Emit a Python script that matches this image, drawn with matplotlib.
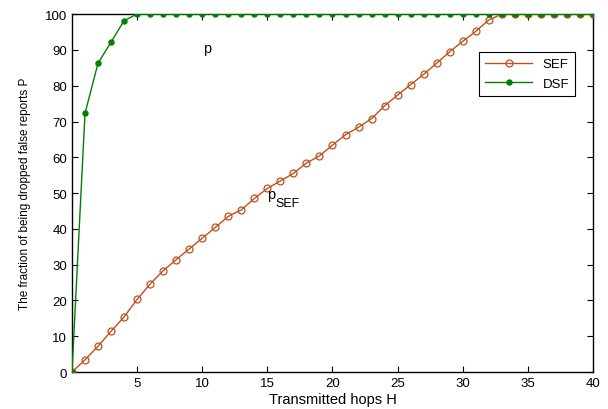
import numpy as np
import matplotlib.pyplot as plt

plt.rcParams['font.family'] = ['Liberation Sans', 'DejaVu Sans']

hops = np.arange(0, 41)
sef = [0, 3.4, 7.2, 11.4, 15.4, 20.3, 24.6, 28.3, 31.4, 34.4, 37.4,
       40.4, 43.5, 45.3, 48.5, 51.3, 53.4, 55.5, 58.4, 60.4, 63.4,
       66.3, 68.4, 70.8, 74.4, 77.4, 80.3, 83.2, 86.3, 89.5, 92.4,
       95.2, 98.4, 100, 100, 100, 100, 100, 100, 100, 100]
dsf = [0, 72.3, 86.3, 92.2, 98.2] + [100] * 36

sef_color = '#c0501c'
dsf_color = '#008000'

fig = plt.figure(figsize=(6.08, 4.10), dpi=100)
ax = fig.add_axes([0.1184, 0.0902, 0.8569, 0.8728])

ax.plot(hops, sef, '-o', color=sef_color, lw=1, ms=5, mfc='none',
        mec=sef_color, mew=0.9, label='SEF', zorder=3)
ax.plot(hops, dsf, '-o', color=dsf_color, lw=1, ms=3.6, mfc=dsf_color,
        mec=dsf_color, label='DSF', zorder=4)

# curve labels
ax.text(10.03, 89.4, 'p', fontsize=10.5, ha='left', va='baseline')
ax.text(14.97, 48.6, 'p', fontsize=10.5, ha='left', va='baseline')
ax.text(15.58, 46.4, 'SEF', fontsize=9, ha='left', va='baseline')

ax.set_xlim(0, 40)
ax.set_ylim(0, 100)
ax.set_xticks(np.arange(5, 41, 5))
ax.set_yticks(np.arange(0, 101, 10))
ax.tick_params(direction='in', top=True, right=True, labelsize=9.5, length=4, width=0.8)
for s in ax.spines.values():
    s.set_linewidth(1)

ax.set_xlabel('Transmitted hops H', fontsize=10.5, labelpad=2.5)
ax.set_ylabel('The fraction of being dropped false reports P', fontsize=8.5, labelpad=10)

leg = ax.legend(loc='upper right', bbox_to_anchor=(0.979, 0.912), fontsize=9.5,
                fancybox=False, edgecolor='black', framealpha=1,
                handlelength=3.6, borderpad=0.45, labelspacing=0.55)
leg.get_frame().set_linewidth(0.8)

fig.savefig('out.png', dpi=100)
